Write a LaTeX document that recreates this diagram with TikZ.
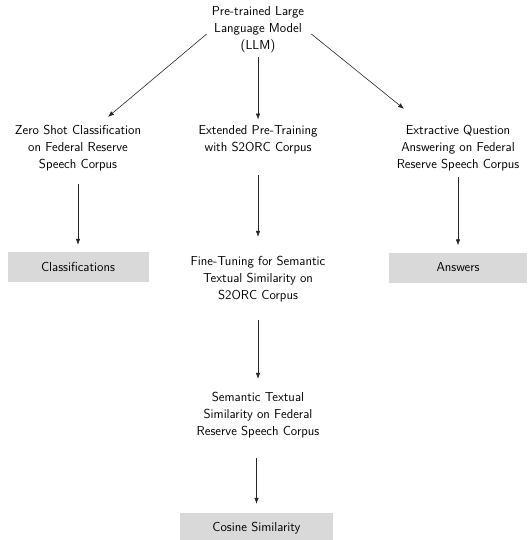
\documentclass[tikz,border=0pt]{standalone}
\usepackage{tikz}
\usetikzlibrary{arrows.meta}

\begin{document}
\begin{tikzpicture}[
		x=1pt, y=-1pt,
		stage/.style ={rectangle,	align=center,		inner sep=0pt,	font=\fontsize{13}{17}\selectfont\sffamily},
		result/.style={rectangle,	fill=black!15,		inner sep=0pt,	minimum height=30pt,	font=\fontsize{13}{17}\selectfont\sffamily},
		flow/.style  ={draw=black!85,	line width=0.6pt,	-{Latex[length=6pt,width=4.5pt]}},
	]

	\newcommand{\cleft}{78}
	\newcommand{\cmid}{258}
	\newcommand{\cright}{458}

	\useasboundingbox (0,0) rectangle (527,540);

	% nodes
	\node [stage] (llm) at (\cmid,30) {Pre-trained Large\\Language Model\\(LLM)};

	\node [stage] (zsc) at (\cleft,148) {Zero Shot Classification\\on Federal Reserve\\Speech Corpus};
	\node [stage] (ept) at (\cmid,140) {Extended Pre-Training\\with S2ORC Corpus};
	\node [stage] (eqa) at (\cright,148) {Extractive Question\\Answering on Federal\\Reserve Speech Corpus};

	\node [result, minimum width=141pt] (cls) at (\cleft,267) {Classifications};
	\node [result, minimum width=138pt] (ans) at (\cright,267.5) {Answers};

	\node [stage] (ftsts) at (\cmid,279) {Fine-Tuning for Semantic\\Textual Similarity on\\S2ORC Corpus};
	\node [stage] (sts) at (\cmid,415) {Semantic Textual\\Similarity on Federal\\Reserve Speech Corpus};
	\node [result, minimum width=153pt] (cos) at (256.5,528) {Cosine Similarity};

	% interconnections
	\draw [flow] ([shift={(-5,4)}]llm.west) -- ([shift={(30,-8)}]zsc.north);
	\draw [flow] ([shift={(7,4)}]llm.east) -- ([shift={(-54,-16)}]eqa.north);
	\draw [flow, shorten <=4pt, shorten >=6pt] (llm) -- (ept);

	\draw [flow, shorten <=13pt, shorten >=7pt] (zsc) -- (cls);
	\draw [flow, shorten <=6pt, shorten >=7pt] (eqa) -- (ans);

	\draw [flow, shorten <=21pt, shorten >=19pt] (ept) -- (ftsts);
	\draw [flow, shorten <=18pt, shorten >=13pt] (ftsts) -- (sts);
	\draw [flow, shorten <=20pt, shorten >=9pt] (sts.south -| cos.north) -- (cos.north);

\end{tikzpicture}
\end{document}
